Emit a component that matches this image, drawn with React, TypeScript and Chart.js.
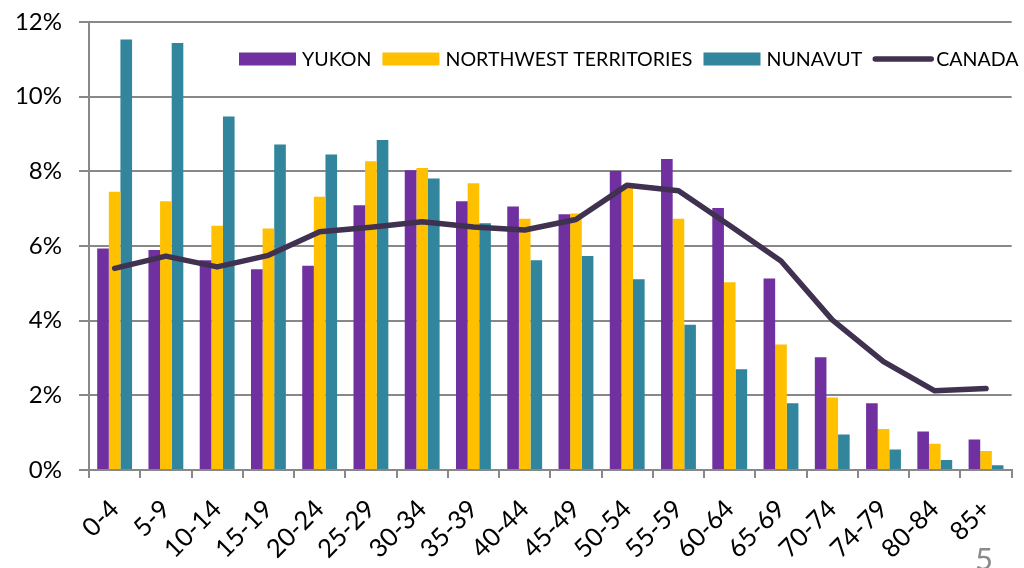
import React, { useEffect, useRef } from "react";
import { Chart, registerables } from "chart.js";

Chart.register(...registerables);

const categories = ["0-4","5-9","10-14","15-19","20-24","25-29","30-34","35-39","40-44","45-49","50-54","55-59","60-64","65-69","70-74","74-79","80-84","85+"];
const yukon = [5.93,5.89,5.62,5.38,5.47,7.09,8.03,7.2,7.06,6.85,8.01,8.33,7.02,5.13,3.02,1.79,1.03,0.82];
const nwt = [7.45,7.2,6.54,6.47,7.32,8.27,8.09,7.68,6.73,6.87,7.6,6.73,5.03,3.36,1.94,1.1,0.7,0.51];
const nunavut = [11.53,11.44,9.47,8.72,8.45,8.84,7.81,6.61,5.62,5.73,5.11,3.89,2.7,1.79,0.95,0.55,0.27,0.13];
const canada = [5.4,5.73,5.44,5.75,6.38,6.5,6.65,6.51,6.43,6.71,7.63,7.48,6.55,5.6,4.02,2.9,2.12,2.18];
const yTicks = [0, 2, 4, 6, 8, 10, 12];

const FONT = "Lato, 'Open Sans', sans-serif";

const legendPlugin = {
  id: "customLegend",
  afterDraw(chart: any) {
    const ctx = chart.ctx;
    const items = [
      { label: "YUKON", color: "#7030A0", type: "box" },
      { label: "NORTHWEST TERRITORIES", color: "#FFC000", type: "box" },
      { label: "NUNAVUT", color: "#31859C", type: "box" },
      { label: "CANADA", color: "#403151", type: "line" },
    ];
    ctx.save();
    ctx.font = "19.6px " + FONT;
    ctx.textBaseline = "middle";
    let x = 239;
    const y = 59;
    for (const it of items) {
      if (it.type === "box") {
        ctx.fillStyle = it.color;
        ctx.fillRect(x, y - 6.5, 57, 13);
      } else {
        ctx.strokeStyle = it.color;
        ctx.lineWidth = 5.5;
        ctx.lineCap = "round";
        ctx.beginPath();
        ctx.moveTo(x + 2, y);
        ctx.lineTo(x + 58, y);
        ctx.stroke();
      }
      ctx.fillStyle = "#000";
      ctx.textAlign = "left";
      ctx.fillText(it.label, x + 63, y + 1);
      x += 63 + ctx.measureText(it.label).width + 11;
    }
    ctx.restore();
  },
};

export default function App() {
  const ref = useRef<HTMLCanvasElement>(null);
  useEffect(() => {
    document.body.style.margin = "0";
    const chart = new Chart(ref.current!, {
      type: "bar",
      data: {
        labels: categories,
        datasets: [
          { type: "line", label: "CANADA", data: canada, borderColor: "#403151", backgroundColor: "#403151", borderWidth: 5.5, pointRadius: 0, tension: 0, borderCapStyle: "round", borderJoinStyle: "round", order: -1 } as any,
          { label: "YUKON", data: yukon, backgroundColor: "#7030A0", categoryPercentage: 0.68, barPercentage: 1 },
          { label: "NORTHWEST TERRITORIES", data: nwt, backgroundColor: "#FFC000", categoryPercentage: 0.68, barPercentage: 1 },
          { label: "NUNAVUT", data: nunavut, backgroundColor: "#31859C", categoryPercentage: 0.68, barPercentage: 1 },
        ],
      },
      options: {
        animation: false,
        responsive: false,
        layout: { padding: { top: 22, right: 12, left: 0, bottom: 0 } },
        plugins: { legend: { display: false }, tooltip: { enabled: false }, title: { display: false } },
        scales: {
          x: {
            offset: true,
            grid: { offset: true, drawOnChartArea: false, drawTicks: true, tickLength: 8, color: "#888888", lineWidth: 2 },
            border: { color: "#888888", width: 2 },
            ticks: { minRotation: 45, maxRotation: 45, autoSkip: false, padding: 16, color: "#000", font: { family: FONT, size: 25.5 } },
            afterFit(scale: any) { scale.height = 98; },
          },
          y: {
            min: 0,
            max: 12,
            afterBuildTicks(scale: any) { scale.ticks = yTicks.map((v) => ({ value: v })); },
            grid: { color: "#888888", lineWidth: 2, tickLength: 10, drawTicks: true },
            border: { color: "#888888", width: 2 },
            ticks: { padding: 17, color: "#000", font: { family: FONT, size: 24 }, callback: (v: any) => v + "%" },
            afterFit(scale: any) { scale.width = 89; scale.paddingTop = 0; scale.paddingBottom = 0; },
          },
        },
      },
      plugins: [legendPlugin],
    } as any);
    return () => chart.destroy();
  }, []);
  return (
    <div style={{ position: "fixed", left: 0, top: 0, width: 1024, height: 568, background: "#fff", overflow: "hidden" }}>
      <canvas ref={ref} width={1024} height={568} style={{ display: "block" }} />
      <span style={{ position: "absolute", left: 975, top: 538, fontFamily: FONT, fontSize: 31, color: "#8a8a8a", lineHeight: "40px" }}>5</span>
    </div>
  );
}
